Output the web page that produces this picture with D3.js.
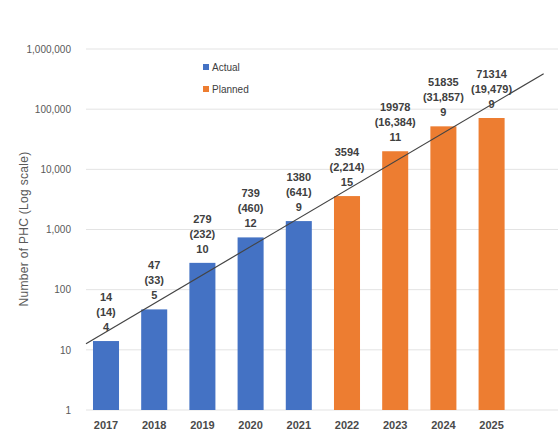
<!DOCTYPE html>
<html>
<head>
<meta charset="utf-8">
<script src="https://cdn.jsdelivr.net/npm/d3@7"></script>
<style>
  html, body { margin: 0; padding: 0; background: #fff; }
  svg { display: block; }
  text { font-family: "Liberation Sans Narrow", "Liberation Sans", sans-serif; }
</style>
</head>
<body>
<svg id="chart" width="558" height="436"></svg>
<script>
// PHC roll-out by year
const years    = ["2017", "2018", "2019", "2020", "2021", "2022", "2023", "2024", "2025"];
const totals   = [14, 47, 279, 739, 1380, 3594, 19978, 51835, 71314];
const inParens = ["(14)", "(33)", "(232)", "(460)", "(641)", "(2,214)", "(16,384)", "(31,857)", "(19,479)"];
const counts   = [4, 5, 10, 12, 9, 15, 11, 9, 9];
const status   = ["Actual", "Actual", "Actual", "Actual", "Actual", "Planned", "Planned", "Planned", "Planned"];
const yTicks   = [1, 10, 100, 1000, 10000, 100000, 1000000];
const legendItems = ["Actual", "Planned"];

const colors = { Actual: "#4472C4", Planned: "#ED7D31" };

const svg = d3.select("#chart");
const W = 558;

const x = d3.scaleBand()
  .domain(years)
  .range([86, 511.6])
  .paddingInner(0.46)
  .paddingOuter(0.145);

const y = d3.scaleLog()
  .domain([1, 1000000])
  .range([410, 49]);

// gridlines
svg.append("g")
  .selectAll("line")
  .data(yTicks)
  .join("line")
  .attr("x1", 86).attr("x2", W)
  .attr("y1", d => y(d)).attr("y2", d => y(d))
  .attr("stroke", "#e3e3e3")
  .attr("stroke-width", 1);

// y axis labels
const yAxis = d3.axisLeft(y)
  .tickValues(yTicks)
  .tickFormat(d3.format(","))
  .tickSize(0)
  .tickPadding(0);
const gy = svg.append("g").attr("transform", "translate(71,0)").call(yAxis);
gy.select(".domain").remove();
gy.selectAll("text")
  .attr("fill", "#595959")
  .style("font-size", "10px")
  .style("font-family", "\"Liberation Sans Narrow\", \"Liberation Sans\", sans-serif");

// y axis title
svg.append("text")
  .attr("transform", "translate(28,229) rotate(-90)")
  .attr("text-anchor", "middle")
  .attr("fill", "#595959")
  .style("font-size", "12px")
  .style("letter-spacing", "0.3px")
  .style("font-family", "\"Liberation Sans\", sans-serif")
  .text("Number of PHC (Log scale)");

// x axis labels
const xAxis = d3.axisBottom(x).tickSize(0).tickPadding(0);
const gx = svg.append("g").attr("transform", "translate(0,421)").call(xAxis);
gx.select(".domain").remove();
gx.selectAll("text")
  .attr("fill", "#4a4a4a")
  .style("font-size", "11px")
  .style("font-weight", "bold");

// bars
const rows = years.map((yr, i) => ({ yr, total: totals[i], paren: inParens[i], count: counts[i], status: status[i] }));

svg.append("g")
  .selectAll("rect")
  .data(rows)
  .join("rect")
  .attr("x", d => x(d.yr))
  .attr("width", x.bandwidth())
  .attr("y", d => y(d.total))
  .attr("height", d => y(1) - y(d.total))
  .attr("fill", d => colors[d.status]);

// value labels (three lines above each bar)
const lab = svg.append("g")
  .selectAll("text")
  .data(rows)
  .join("text")
  .attr("text-anchor", "middle")
  .attr("fill", "#404040")
  .style("font-size", "11px")
  .style("font-weight", "bold");
lab.each(function(d) {
  const t = d3.select(this);
  const cx = x(d.yr) + x.bandwidth() / 2;
  const base = y(d.total) - 10;
  [String(d.total), d.paren, String(d.count)].forEach((s, k) => {
    t.append("tspan").attr("x", cx).attr("y", base - (2 - k) * 15).text(s);
  });
});

// exponential trend line: least-squares fit of log10(total) against year index
const n = totals.length;
const lx = d3.range(n);
const ly = totals.map(v => Math.log10(v));
const mx = d3.mean(lx), my = d3.mean(ly);
const slope = d3.sum(lx, (v, i) => (v - mx) * (ly[i] - my)) / d3.sum(lx, v => (v - mx) * (v - mx));
const icpt = my - slope * mx;
const step = x.step();
const c0 = x(years[0]) + x.bandwidth() / 2;
const trendIdx = [-0.415, n - 1 + 1.08];
svg.append("line")
  .attr("x1", c0 + trendIdx[0] * step)
  .attr("x2", c0 + trendIdx[1] * step)
  .attr("y1", y(Math.pow(10, icpt + slope * trendIdx[0])))
  .attr("y2", y(Math.pow(10, icpt + slope * trendIdx[1])))
  .attr("stroke", "#444")
  .attr("stroke-width", 1.2);

// legend
const lg = svg.append("g")
  .selectAll("g")
  .data(legendItems)
  .join("g")
  .attr("transform", (d, i) => `translate(203,${64 + i * 22})`);
lg.append("rect").attr("width", 6).attr("height", 6).attr("fill", d => colors[d]);
lg.append("text")
  .attr("x", 9).attr("y", 6.5)
  .attr("fill", "#404040")
  .style("font-size", "10px")
  .text(d => d);
</script>
</body>
</html>
